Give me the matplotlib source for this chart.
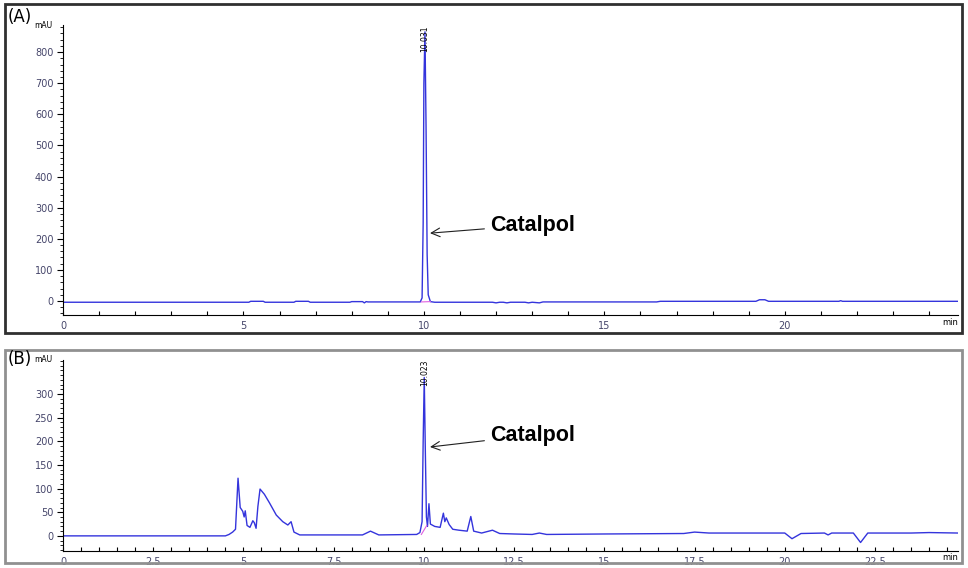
import numpy as np
import matplotlib.pyplot as plt
from matplotlib.ticker import MultipleLocator, FormatStrFormatter
from matplotlib.patches import Rectangle

# (A) standard - time (min) and signal (mAU)
time_a = [0, 5.15, 5.2, 5.55, 5.6, 6.4, 6.45, 6.8, 6.85, 7.95, 8.0, 8.3, 8.35, 8.4, 8.45,
          9.9, 9.95, 9.98, 10.0, 10.03, 10.06, 10.09, 10.12, 10.18, 10.3,
          11.9, 12.0, 12.1, 12.2, 12.3, 12.4, 12.8, 12.9, 13.0, 13.2, 13.3,
          16.45, 16.55, 19.2, 19.3, 19.45, 19.55, 21.5, 21.55, 21.6, 24.8]
sig_a = [-4, -4, -1, -1, -4, -4, -1, -1, -4, -4, -2, -2, -6, -2, -3,
         -3, 10, 250, 700, 865, 560, 150, 20, -2, -4,
         -4, -6, -4, -4, -6, -4, -4, -6, -4, -6, -3,
         -3, -1, -1, 4, 4, -1, -1, 1, -1, -1]

# (B) sample
time_b = [0, 4.5, 4.6, 4.7, 4.78, 4.85, 4.91, 4.98, 5.02, 5.05, 5.1, 5.18, 5.26, 5.3,
          5.35, 5.4, 5.46, 5.58, 5.72, 5.91, 6.09, 6.23, 6.32, 6.4, 6.56,
          8.3, 8.52, 8.75, 9.8, 9.89, 9.95, 9.98, 10.01, 10.04, 10.07, 10.1, 10.14, 10.18,
          10.3, 10.45, 10.54, 10.58, 10.62, 10.7, 10.8, 10.97, 11.2, 11.3, 11.38,
          11.6, 11.9, 12.1, 12.5, 13.0, 13.2, 13.4, 15.0, 17.2, 17.5, 17.9,
          20.0, 20.2, 20.45, 21.1, 21.2, 21.3, 21.9, 22.1, 22.3, 23.5, 24.0, 24.8]
sig_b = [0, 0, 3, 8, 14, 122, 60, 52, 40, 53, 22, 18, 32, 28,
         16, 62, 99, 88, 70, 44, 30, 23, 30, 8, 2,
         2, 10, 2, 3, 7, 30, 200, 335, 180, 40, 20, 68, 25,
         20, 18, 48, 30, 38, 24, 14, 12, 10, 41, 10,
         6, 12, 5, 4, 3, 6, 3, 4, 5, 8, 6,
         6, -6, 5, 6, 2, 6, 6, -14, 6, 6, 7, 6]

peak_a = (10.03, "10.031")
peak_b = (10.01, "10.023")

xticks_a = [0, 5, 10, 15, 20]
xticks_b = [0, 2.5, 5, 7.5, 10, 12.5, 15, 17.5, 20, 22.5]
yticks_a = [0, 100, 200, 300, 400, 500, 600, 700, 800]
yticks_b = [0, 50, 100, 150, 200, 250, 300]

line_color = '#3434dc'
label_color = '#45456a'

fig = plt.figure(figsize=(9.68, 5.68), dpi=100)
W, H = 968, 568


def px_box(x0, y0, x1, y1):
    return [x0 / W, 1 - y1 / H, (x1 - x0) / W, (y1 - y0) / H]


# panel frames
fig.patches.append(Rectangle((5 / W, 1 - 333 / H), 957 / W, 329 / H, transform=fig.transFigure,
                             fill=False, edgecolor='#303030', linewidth=2))
fig.patches.append(Rectangle((5 / W, 1 - 563 / H), 957 / W, 213 / H, transform=fig.transFigure,
                             fill=False, edgecolor='#909090', linewidth=2))
fig.text(8 / W, 1 - 8 / H, "(A)", fontsize=12, va='top', ha='left')
fig.text(8 / W, 1 - 350 / H, "(B)", fontsize=12, va='top', ha='left')

ax_a = fig.add_axes(px_box(63, 25, 958, 315))
ax_b = fig.add_axes(px_box(63, 360, 958, 551))


def style(ax, ymin, ymax, xticks, xminor, yticks, ymin_step):
    ax.set_xlim(0, 24.8)
    ax.set_ylim(ymin, ymax)
    for s in ['top', 'right']:
        ax.spines[s].set_visible(False)
    ax.spines['left'].set_linewidth(0.8)
    ax.spines['bottom'].set_linewidth(0.8)
    ax.set_xticks(xticks)
    ax.set_yticks(yticks)
    ax.xaxis.set_major_formatter(FormatStrFormatter('%g'))
    ax.xaxis.set_minor_locator(MultipleLocator(xminor))
    ax.yaxis.set_minor_locator(MultipleLocator(ymin_step))
    ax.tick_params(axis='x', which='both', direction='in', length=3, width=0.8,
                   labelsize=7, labelcolor=label_color, pad=4)
    ax.tick_params(axis='y', which='major', direction='out', length=4, width=0.8,
                   labelsize=7, labelcolor=label_color, pad=3)
    ax.tick_params(axis='y', which='minor', direction='out', length=2, width=0.6)
    ax.set_facecolor('none')
    ax.text(-0.012, 1.0, "mAU", transform=ax.transAxes, fontsize=5.5, ha='right', va='center')
    ax.text(1.0, -0.012, "min", transform=ax.transAxes, fontsize=6, ha='right', va='top')


style(ax_a, -45, 887, xticks_a, 1, yticks_a, 20)
style(ax_b, -32, 372, xticks_b, 0.5, yticks_b, 10)

ax_a.plot(time_a, sig_a, color=line_color, linewidth=1.0)
ax_b.plot(time_b, sig_b, color=line_color, linewidth=1.0)

# integration baselines
ax_a.plot([9.93, 10.18], [-3, -2], color='#e060e0', linewidth=0.8)
ax_b.plot([9.93, 10.08], [3, 22], color='#e060e0', linewidth=0.8)

ax_a.text(peak_a[0], 885, peak_a[1], rotation=90, fontsize=5.5, ha='center', va='top')
ax_b.text(peak_b[0], 372, peak_b[1], rotation=90, fontsize=5.5, ha='center', va='top')

for ax, tip, txt in [(ax_a, (10.17, 218), (11.83, 244)), (ax_b, (10.17, 188), (11.83, 213))]:
    ax.annotate("Catalpol", xy=tip, xytext=txt, fontsize=15.5, fontweight='bold',
                family='Liberation Sans', ha='left', va='center',
                arrowprops=dict(arrowstyle='->', color='#202020', lw=0.8,
                                shrinkA=2, shrinkB=0))

fig.savefig("out.png", dpi=100)
